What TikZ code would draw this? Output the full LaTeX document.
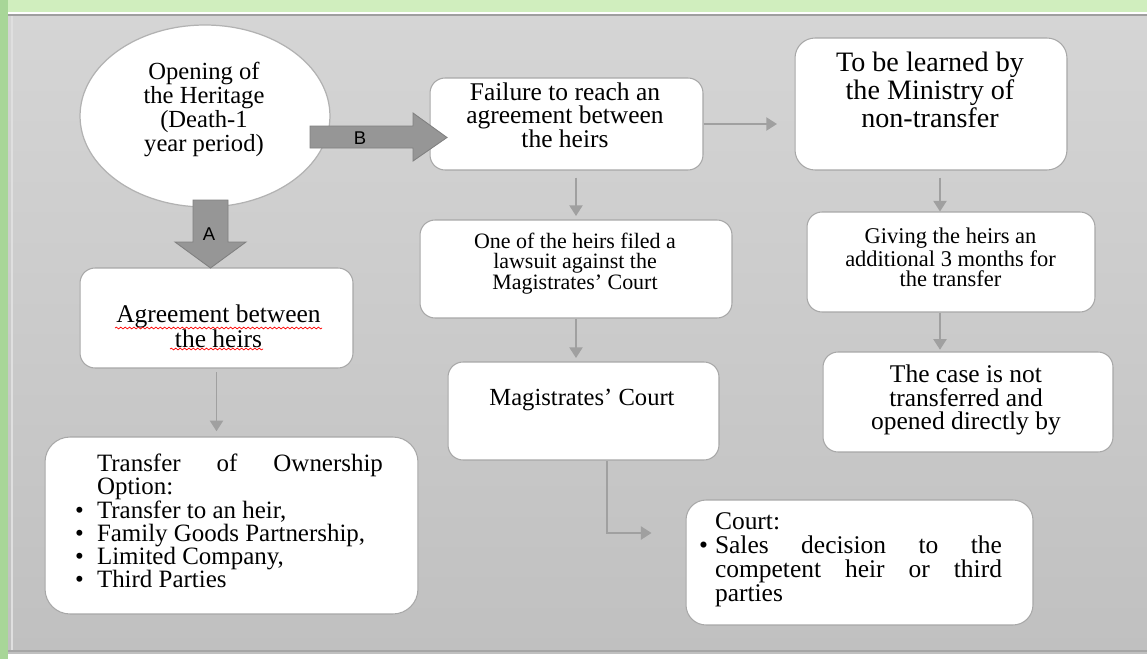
\documentclass[tikz,border=0pt]{standalone}
\usepackage{fontspec}
\setmainfont{Liberation Serif}
\newfontfamily\arrowfont{Liberation Sans}
\usetikzlibrary{shapes.geometric,arrows.meta,decorations.pathmorphing}
\definecolor{leafgreen}{RGB}{208,238,190}
\definecolor{stripgreen}{RGB}{168,214,152}
\definecolor{paneltop}{RGB}{213,213,213}
\definecolor{panelbottom}{RGB}{192,192,192}
\definecolor{boxline}{RGB}{168,168,168}
\definecolor{linkgray}{RGB}{160,160,160}
\definecolor{bigarrowgray}{RGB}{150,150,150}
\newcommand{\fs}[2]{\fontsize{#1}{#2}\selectfont}
\newcommand{\bitem}[2]{\par\noindent\hangindent=#1\makebox[#1][l]{\textbullet}#2}

\begin{document}
\begin{tikzpicture}[
        x=0.02cm,y=-0.02cm,
        every node/.style={inner sep=0pt},
        box/.style={rectangle,rounded corners=3mm,draw=boxline,fill=white,line width=0.6pt},
        txt/.style={align=center},
        link/.style={draw=linkgray,line width=0.8pt,-{Triangle[width=7.5pt,length=6pt]}},
        bigarrow/.style={fill=bigarrowgray,draw=bigarrowgray!85!black,line width=0.5pt},
        squiggle/.style={red,line width=0.4pt,decorate,
                         decoration={snake,amplitude=0.5pt,segment length=2.5pt}}
      ]
      \useasboundingbox (0,0) rectangle (1147,659);

      % Page background and grey panel
      \fill[white] (0,0) rectangle (1147,659);
      \fill[leafgreen] (0,0) rectangle (1147,12);
      \fill[stripgreen] (0,0) rectangle (8,659);
      \fill[top color=paneltop,bottom color=panelbottom] (8,14) rectangle (1147,653);
      \draw[gray!75,line width=0.6pt] (8,15) -- (1147,15);
      \draw[gray!25,line width=0.6pt] (12,16) -- (12,650);
      \draw[gray!70,line width=0.6pt] (8,651) -- (1147,651);

      % Start node
      \node(open)[ellipse,draw=gray!60,fill=white,line width=0.7pt,
                  minimum width=5cm,minimum height=3.64cm] at (205,116) {};
      \node(opentxt)[txt,font={\fs{14}{13.6}}] at (204,109.5)
        {Opening of\\the Heritage\\(Death-1\\year period)};

      % Column A: agreement
      \node(agree)[box] [minimum width=5.46cm,minimum height=2cm] at (216.5,318) {};
      \node(agreetxt)[txt,font={\fs{14.5}{12.5}}] at (218.5,326.5)
        {Agreement between\\the heirs};
      \draw[squiggle] (115,328) -- (322,328);
      \draw[squiggle] (170,349) -- (263,349);

      \node(transfer)[box,rounded corners=5mm] [minimum width=7.46cm,minimum height=3.54cm] at (231.5,525.5) {};
      \node(transfertxt)[align=justify,text width=6.16cm,font={\fs{14.2}{13.2}}] at (229,521)
        {\parindent=0pt\hyphenpenalty=10000
         {\leftskip=0.44cm Transfer of Ownership\linebreak Option:\par}
         \bitem{0.44cm}{Transfer to an heir,}
         \bitem{0.44cm}{Family Goods Partnership,}
         \bitem{0.44cm}{Limited Company,}
         \bitem{0.44cm}{Third Parties}\par};

      % Column B: no agreement
      \node(fail)[box] [minimum width=5.46cm,minimum height=1.84cm] at (566.5,124) {};
      \node(failtxt)[txt,font={\fs{14.5}{13.3}}] at (565,115)
        {Failure to reach an\\agreement between\\the heirs};

      \node(suit)[box] [minimum width=6.24cm,minimum height=1.96cm] at (576,269) {};
      \node(suittxt)[txt,font={\fs{12.5}{11.6}}] at (575,263.5)
        {One of the heirs filed a\\lawsuit against the\\Magistrates' Court};

      \node(magis)[box] [minimum width=5.42cm,minimum height=1.96cm] at (583.5,411) {};
      \node(magistxt)[txt,font={\fs{14}{14}}] at (582,400) {Magistrates' Court};

      \node(court)[box,rounded corners=4mm] [minimum width=6.94cm,minimum height=2.5cm] at (859.5,562.5) {};
      \node(courttxt)[align=justify,text width=6.06cm,font={\fs{14.5}{13.6}}] at (850.5,559.5)
        {\parindent=0pt\hyphenpenalty=10000
         {\leftskip=0.32cm Court:\par}
         \bitem{0.32cm}{Sales decision to the\linebreak competent heir or third\linebreak parties}\par};

      % Right column: ministry
      \node(learn)[box,rounded corners=4mm] [minimum width=5.44cm,minimum height=2.64cm] at (931,104) {};
      \node(learntxt)[txt,font={\fs{16}{14.2}}] at (930,90)
        {To be learned by\\the Ministry of\\non-transfer};

      \node(giving)[box] [minimum width=5.76cm,minimum height=2cm] at (951,262) {};
      \node(givingtxt)[txt,font={\fs{12.8}{11.6}}] at (950.5,257.5)
        {Giving the heirs an\\additional 3 months for\\the transfer};

      \node(case)[box] [minimum width=5.8cm,minimum height=2cm] at (968,402) {};
      \node(casetxt)[txt,font={\fs{14.5}{13.6}}] at (966,400)
        {The case is not\\transferred and\\opened directly by};

      % Thin connectors
      \coordinate (ministrycol) at (940,0);
      \draw[link,shorten >=10pt] (fail.east) -- (fail.east -| learn.west);
      \draw[link,shorten <=4pt,shorten >=2pt] (suit.north |- fail.south) -- (suit.north);
      \draw[link,shorten >=2pt] (suit.south) -- (suit.south |- magis.north);
      \draw[link,shorten <=4pt] (learn.south -| ministrycol) -- (giving.north -| ministrycol);
      \draw[link,shorten >=1pt] (giving.south -| ministrycol) -- (case.north -| ministrycol);
      \draw[link,shorten <=2pt,shorten >=3pt] (agree.south) -- (agree.south |- transfer.north);
      \draw[link] ([xshift=0.47cm]magis.south) |- ([shift={(-34,-29.5)}]court.west);

      % Block arrows A and B
      \filldraw[bigarrow] (310,126) -- (413,126) -- (413,113) -- (447,137.5)
        -- (413,161) -- (413,148) -- (310,148) -- cycle;
      \node(barrow)[font={\arrowfont\fontsize{10.5}{12}\selectfont}] at (360,138) {B};
      \filldraw[bigarrow] (193,200) -- (228,200) -- (228,242) -- (246,242) -- (210.5,268)
        -- (175,242) -- (193,242) -- cycle;
      \node(aarrow)[font={\arrowfont\fontsize{10.5}{12}\selectfont}] at (209,234) {A};
    \end{tikzpicture}
\end{document}
